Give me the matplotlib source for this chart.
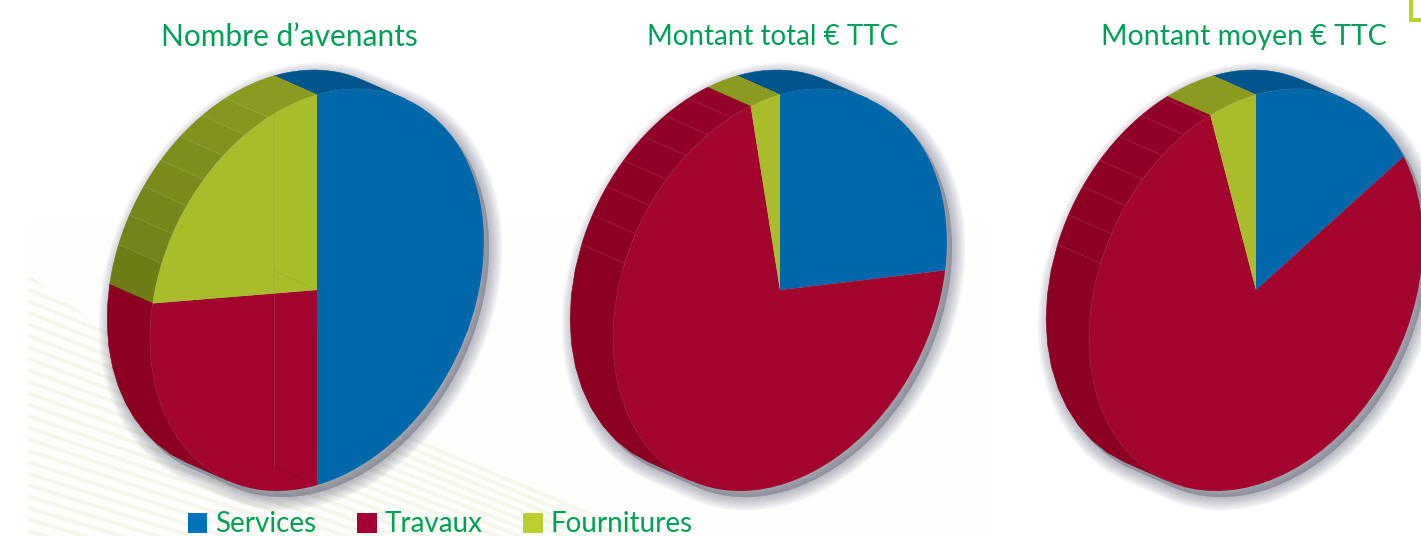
import numpy as np
import matplotlib
matplotlib.use('Agg')
import matplotlib.pyplot as plt
from matplotlib.patches import Polygon, Rectangle, Patch
from matplotlib.transforms import Affine2D

W, H = 1421, 536

# data
titles = ['Nombre d\u2019avenants', 'Montant total \u20ac TTC', 'Montant moyen \u20ac TTC']
categories = ['Services', 'Travaux', 'Fournitures']
services = [50.0, 27.3, 17.3]
travaux = [27.8, 69.9, 78.3]
fournitures = [22.2, 2.8, 4.4]

# couleurs
face_colors = ['#0067ab', '#a2042d', '#a8bd29']
side_top = ['#00558c', '#93002a', '#8a9b20']
side_low = ['#00558c', '#8c0021', '#6e7c17']
legend_colors = ['#0072bc', '#a50034', '#b9d02e']
green = '#00a056'

# mise en page (pixels)
centers = [317, 780, 1256]
cy = H - 290
titles_x = [289, 773, 1244]
title_sizes = [21.5, 20, 20.5]
rx, shear, ry = 162, 40, 201
off_x, off_y = -43, 19
start = 103.9
tangent = np.degrees(np.arctan2(201 * 43 + 40 * 19, 162 * 19))

plt.rcParams['font.family'] = ['Lato', 'DejaVu Sans']
fig = plt.figure(figsize=(W / 100, H / 100), dpi=100)
ax = fig.add_axes([0, 0, 1, 1])


def to_px(theta, cx, dx=0, dy=0):
    t = np.radians(theta)
    u, v = np.cos(t), np.sin(t)
    return np.column_stack([cx + dx + rx * u + shear * v, cy + dy + ry * v])


def background():
    # fond tres pale + rayures en bas a gauche
    ax.add_patch(Rectangle((28, 0), 960, H - 220, fc='#fefefd', ec='none', zorder=0))
    clip = Polygon([(28, H - 275), (150, H - 360), (760, H - 536), (28, H - 536)],
                   closed=True, transform=ax.transData, fc='none', ec='none')
    ax.add_patch(clip)
    for k in range(40):
        y0 = 278 + k * 11.5
        slope = 0.42 - 0.006 * k
        ln, = ax.plot([28, 760], [H - y0, H - y0 - slope * 732], color='#f2f4e6',
                      lw=2.8, alpha=0.7, zorder=1, solid_capstyle='butt')
        ln.set_clip_path(clip)


def draw_pie(cx, values):
    edges = start - np.cumsum([0] + list(values)) * 3.6

    # ombre portee
    back = to_px(np.linspace(tangent, tangent + 180, 120), cx, off_x, off_y)
    front = to_px(np.linspace(tangent + 180, tangent + 360, 120), cx)
    outline = np.vstack([back, front])
    for lw in np.linspace(20, 0.5, 18):
        ax.add_patch(Polygon(outline + [5, -6], closed=True, fc='#5d6274', ec='#5d6274',
                             lw=lw, alpha=0.028, joinstyle='round', zorder=2))

    # flanc, facette par facette
    ticks = np.arange(120.8, 176, 8.6)
    cuts = np.concatenate([[tangent, tangent + 180], ticks,
                           [e for e in edges if tangent < e < tangent + 180],
                           [e + 360 for e in edges if tangent < e + 360 < tangent + 180]])
    cuts = np.unique(cuts[(cuts >= tangent) & (cuts <= tangent + 180)])
    for a, b in zip(cuts[:-1], cuts[1:]):
        mid = (a + b) / 2
        idx = 0
        for i in range(3):
            lo, hi = edges[i + 1], edges[i]
            if lo <= mid <= hi or lo <= mid - 360 <= hi:
                idx = i
        theta = np.linspace(a, b, 12)
        pts = np.vstack([to_px(theta, cx), to_px(theta[::-1], cx, off_x, off_y)])
        mix = np.clip((mid - 115) / 65, 0, 1)
        c0 = np.array(matplotlib.colors.to_rgb(side_top[idx]))
        c1 = np.array(matplotlib.colors.to_rgb(side_low[idx]))
        col = c0 + (c1 - c0) * mix
        ax.add_patch(Polygon(pts, closed=True, fc=col, ec=col, lw=0.4, zorder=3))
    for t in ticks:
        seg = np.vstack([to_px(t, cx), to_px(t, cx, off_x, off_y)])
        ax.plot(seg[:, 0], seg[:, 1], color='#ffffff', lw=0.5, alpha=0.14, zorder=4)
    # arete entre la face et le flanc
    seg_edge = to_px(np.linspace(tangent, tangent + 180, 120), cx)
    ax.plot(seg_edge[:, 0], seg_edge[:, 1], color='#ffffff', lw=0.5, alpha=0.2, zorder=4)

    # face avant
    wedges, _ = ax.pie(values, colors=face_colors, startangle=start, counterclock=False,
                       radius=1, wedgeprops={'linewidth': 0.3, 'edgecolor': 'none'})
    matrix = Affine2D(np.array([[rx, shear, cx], [0, ry, cy], [0, 0, 1]], dtype=float))
    for w in wedges:
        w.set_transform(matrix + ax.transData)
        w.set_zorder(5)


background()
for cx, s, t, f in zip(centers, services, travaux, fournitures):
    draw_pie(cx, [s, t, f])

ax.set_aspect('auto')
ax.set_xlim(0, W)
ax.set_ylim(0, H)
ax.axis('off')

# traits fantomes du premier camembert
ghost = [([274, 274], [113, 467], '#8f8f30'), ([274, 317], [271, 290], '#8f8f30'), ([274, 317], [467, 485], '#7d0020')]
for xs, ys, c in ghost:
    ax.plot(xs, [H - y for y in ys], color=c, lw=0.5, alpha=0.3, zorder=6)

for x, title, size in zip(titles_x, titles, title_sizes):
    ax.text(x, H - 37, title, color=green, fontsize=size, ha='center', va='center', zorder=7)

# legende
handles = [Patch(fc=c, ec='none', label=n) for c, n in zip(legend_colors, categories)]
ax.legend(handles=handles, ncol=3, frameon=False, loc='lower left',
          bbox_to_anchor=(188 / W, -1.5 / H), bbox_transform=ax.transAxes,
          borderaxespad=0, borderpad=0, handlelength=0.7, handleheight=0.7,
          handletextpad=0.29, columnspacing=1.46, labelcolor=green, prop={'size': 20})

# coin vert en haut a droite
corner = '#b9d02e'
ax.add_patch(Rectangle((1409, H - 22), 4, 22, fc=corner, ec='none', zorder=7))
ax.add_patch(Rectangle((1409, H - 22), 12, 4, fc=corner, ec='none', zorder=7))

fig.savefig('out.png', dpi=100, facecolor='white')
